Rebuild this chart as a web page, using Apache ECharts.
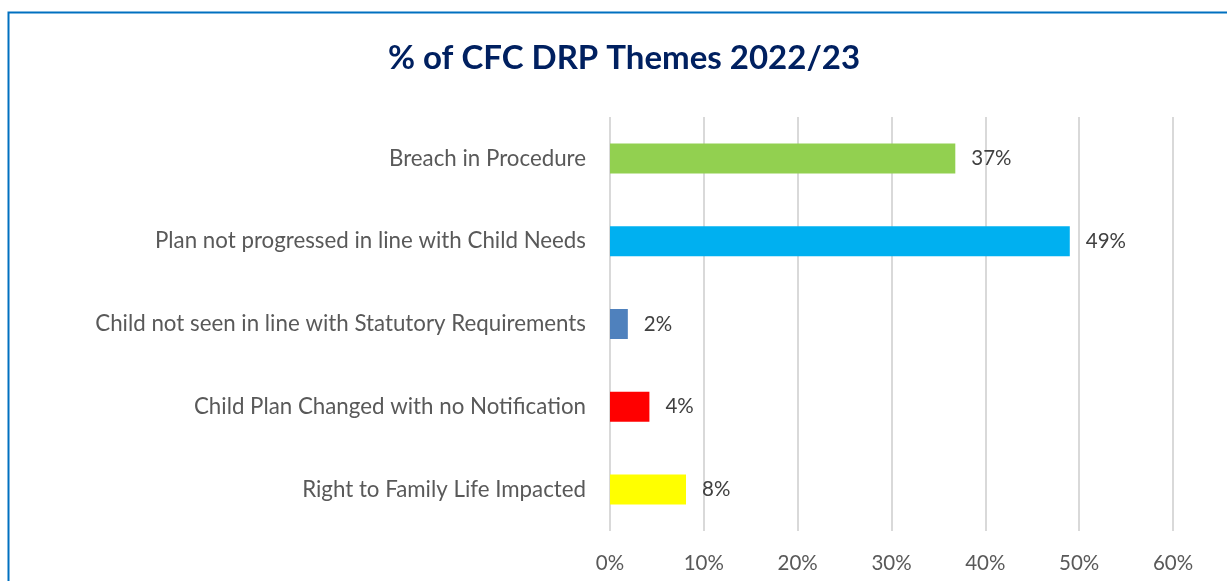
<!DOCTYPE html>
<html>
<head>
<meta charset="utf-8">
<script src="https://cdn.jsdelivr.net/npm/echarts@6/dist/echarts.min.js"></script>
<style>
  html, body { margin: 0; padding: 0; background: #fff; }
  #chart { width: 1227px; height: 581px; }
</style>
</head>
<body>
<div id="chart"></div>
<script>
// data
const themes = [
  'Breach in Procedure',
  'Plan not progressed in line with Child Needs',
  'Child not seen in line with Statutory Requirements',
  'Child Plan Changed with no Notification',
  'Right to Family Life Impacted'
];
const shares = [36.8, 49.0, 1.9, 4.2, 8.1];
const barColors = ['#92D050', '#00B0F0', '#4F81BD', '#FF0000', '#FFFF00'];

let myChart = echarts.init(document.getElementById('chart'));
let option = {
  animation: false,
  textStyle: { fontFamily: 'Lato, "Open Sans", sans-serif' },
  title: {
    text: '% of CFC DRP Themes 2022/23',
    left: 619,
    textAlign: 'center',
    top: 37,
    textStyle: { color: '#002060', fontSize: 33, fontWeight: 'bold', fontFamily: 'Lato, sans-serif' }
  },
  graphic: [{
    type: 'rect',
    shape: { x: 8.5, y: 12.5, width: 1400, height: 800 },
    style: { fill: 'none', stroke: '#0070C0', lineWidth: 2 },
    silent: true
  }],
  grid: { left: 610, right: 54, top: 117, bottom: 50 },
  xAxis: {
    type: 'value',
    min: 0,
    max: 60,
    interval: 10,
    axisLine: { show: false },
    axisTick: { show: false },
    axisLabel: { formatter: '{value}%', color: '#595959', fontSize: 20.5, margin: 22 },
    splitLine: { lineStyle: { color: '#D9D9D9', width: 2 } }
  },
  yAxis: {
    type: 'category',
    inverse: true,
    data: themes,
    axisLine: { show: false },
    axisTick: { show: false },
    axisLabel: { color: '#595959', fontSize: 22.3, margin: 24 }
  },
  series: [{
    type: 'bar',
    barWidth: 30,
    data: shares.map((v, i) => ({ value: v, itemStyle: { color: barColors[i] } })),
    label: {
      show: true,
      position: 'right',
      distance: 16,
      color: '#404040',
      fontSize: 20.5,
      formatter: p => Math.round(p.value) + '%'
    }
  }]
};
option && myChart.setOption(option);
</script>
</body>
</html>
